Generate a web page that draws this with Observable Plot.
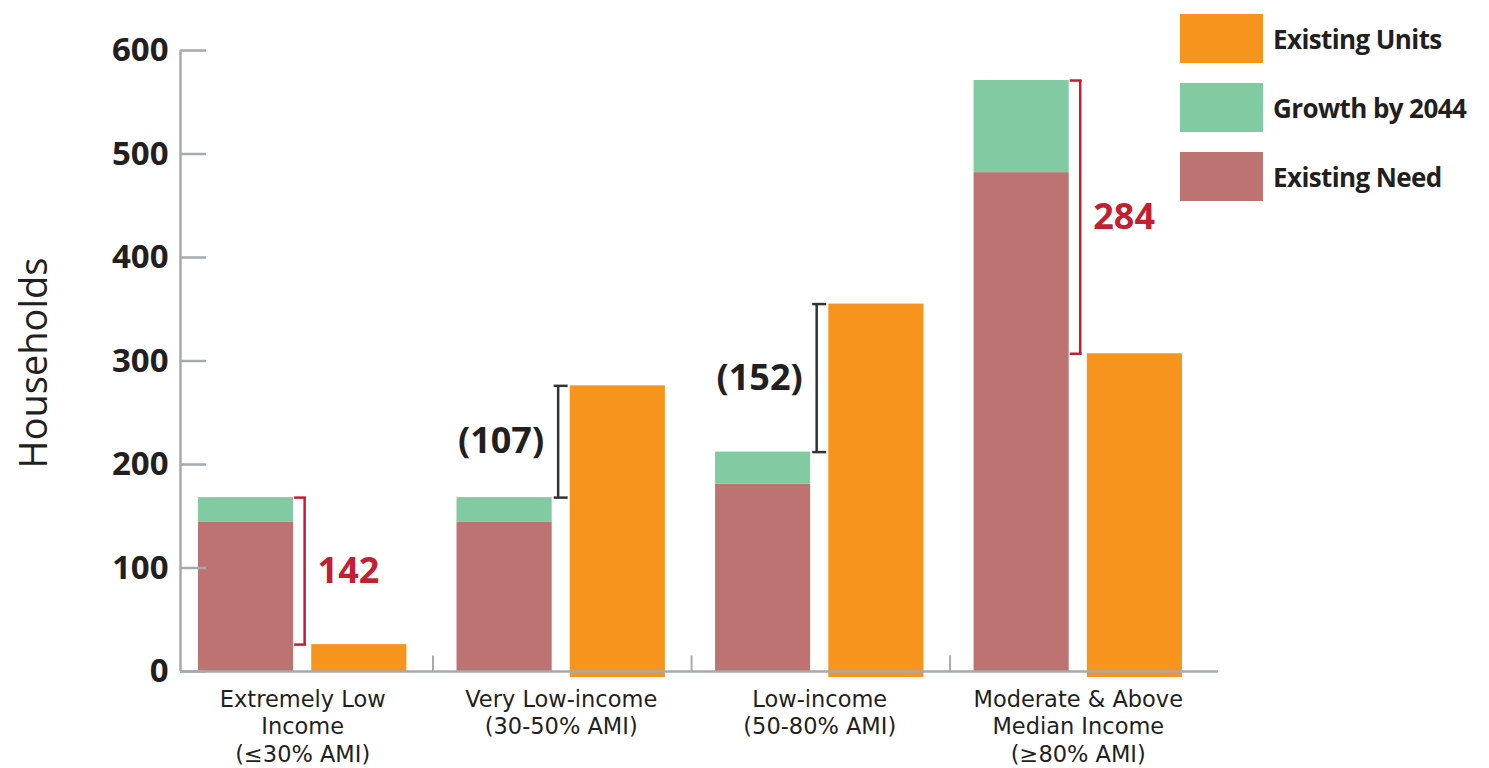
<!DOCTYPE html>
<html>
<head>
<meta charset="utf-8">
<script src="https://cdn.jsdelivr.net/npm/d3@7"></script>
<script src="https://cdn.jsdelivr.net/npm/@observablehq/plot@0.6"></script>
<style>
  html, body { margin: 0; padding: 0; background: #fff; }
  #wrap { position: relative; width: 1489px; height: 768px; font-family: 'Open Sans', sans-serif; }
  #legend { position: absolute; left: 1180px; top: 14px; }
  .item { display: flex; align-items: center; height: 49px; margin-bottom: 20px; }
  .sw { width: 83px; height: 49px; margin-right: 10px; }
  .lab { font-size: 26px; font-weight: 700; color: #231f20; letter-spacing: -0.6px; white-space: nowrap; }
</style>
</head>
<body>
<div id="wrap">
  <div id="chart"></div>
  <div id="legend"></div>
</div>
<script>
// Income categories (x groups)
const categories = [
  "Extremely Low\nIncome\n(≤30% AMI)",
  "Very Low-income\n(30-50% AMI)",
  "Low-income\n(50-80% AMI)",
  "Moderate & Above\nMedian Income\n(≥80% AMI)"
];
// Households by series
const existingNeed = [144, 144, 181, 482];
const growth2044 = [24, 24, 31, 89];
const existingUnits = [26, 276, 355, 307];
// Gap between projected need and existing units
const gapLabels = ["142", "(107)", "(152)", "284"];
const yTicks = [0, 100, 200, 300, 400, 500, 600];
const seriesNames = ["Existing Units", "Growth by 2044", "Existing Need"];
const seriesColors = ["#f7941e", "#82cba2", "#bd7371"];

const W = 1489, H = 768, ML = 180, MR = 271, MT = 50, MB = 97;
const frameW = W - ML - MR;
const axisGray = "#a7a9ac";
const red = "#c41e33";
const dark = "#333333";

// Stacked need (existing need + growth) and existing units rows
const stackRows = [];
categories.forEach((g, i) => {
  stackRows.push({group: g, col: "need", series: "Existing Need", value: existingNeed[i]});
  stackRows.push({group: g, col: "need", series: "Growth by 2044", value: growth2044[i]});
});
const unitRows = categories.map((g, i) => ({group: g, col: "units", series: "Existing Units", value: existingUnits[i], i}));

const gaps = categories.map((g, i) => {
  const top = existingNeed[i] + growth2044[i];
  const units = existingUnits[i];
  return {group: g, top, units, mid: (top + units) / 2, label: gapLabels[i], deficit: top > units};
});
const deficits = gaps.filter(d => d.deficit);
const surpluses = gaps.filter(d => !d.deficit);

// Band geometry (used for offsets relative to the bar bands)
const fxPadIn = 0.194, fxPadOut = 0.1045, fxAlign = 0.333, xPadIn = 0.16;
const fxStep = frameW / (categories.length - fxPadIn + 2 * fxPadOut);
const fxBw = fxStep * (1 - fxPadIn);
const fxLead = (frameW - fxStep * (categories.length - fxPadIn)) * fxAlign;
const bw = (fxBw / (2 - xPadIn)) * (1 - xPadIn);
const yTickLen = 26;

const need = () => "need";
const first = () => categories[0];

const chart = Plot.plot({
  width: W,
  height: H,
  marginLeft: ML,
  marginRight: MR,
  marginTop: MT,
  marginBottom: MB,
  style: {fontFamily: "'Open Sans', sans-serif", color: "#231f20", background: "transparent", overflow: "visible"},
  fx: {domain: categories, paddingInner: fxPadIn, paddingOuter: fxPadOut, align: fxAlign, round: false, axis: null},
  x: {domain: ["need", "units"], paddingInner: xPadIn, paddingOuter: 0, round: false, axis: null},
  y: {domain: [0, 600], axis: null},
  color: {domain: seriesNames, range: seriesColors},
  marks: [
    // bars
    Plot.barY(stackRows, {fx: "group", x: "col", y: "value", fill: "series"}),
    Plot.barY(unitRows.filter(d => d.i === 0), {fx: "group", x: "col", y: "value", fill: "series"}),
    // taller units bars overhang the baseline a little
    Plot.barY(unitRows.filter(d => d.i > 0), {fx: "group", x: "col", y: "value", fill: "series", insetBottom: -6}),

    // baseline across all groups, drawn from the first facet
    Plot.ruleY([0], {fx: first, insetLeft: -fxLead, insetRight: -(frameW - fxLead - fxBw), stroke: axisGray, strokeWidth: 2.5}),
    // y axis line
    Plot.ruleX([0], {fx: first, x: need, y1: yTicks[0], y2: yTicks[yTicks.length - 1], dx: -(bw / 2 + fxLead), stroke: axisGray, strokeWidth: 2.5}),
    // inward y ticks
    Plot.tickY(yTicks, {fx: first, y: d => d, insetLeft: -fxLead, insetRight: fxBw - (yTickLen - fxLead), stroke: axisGray, strokeWidth: 2.5}),
    Plot.axisY({ticks: yTicks, tickSize: 0, tickPadding: 12 + fxLead, fontSize: 33, fontWeight: 700, label: null}),
    Plot.axisFx({anchor: "bottom", tickSize: 0, tickPadding: 16, fontSize: 22.5, lineHeight: 1.22, fontFamily: "'DejaVu Sans', sans-serif", label: null}),
    // category separators
    Plot.ruleX(categories.slice(1), {fx: d => d, x: need, y1: 0, y2: 15, dx: -(bw / 2 + 24), stroke: axisGray, strokeWidth: 2}),
    Plot.text(["Households"], {facet: "super", frameAnchor: "left", textAnchor: "middle", lineAnchor: "middle", rotate: -90, dx: -(146 + fxLead), dy: 2, fontSize: 38, fill: "#231f20"}),

    // shortfall brackets (red)
    Plot.ruleX(deficits, {fx: "group", x: need, y1: "top", y2: "units", dx: bw / 2 + 11, stroke: red, strokeWidth: 2.5}),
    Plot.ruleY(deficits, {fx: "group", x1: need, x2: need, y: "top", insetLeft: bw + 1, insetRight: -13, stroke: red, strokeWidth: 2.5}),
    Plot.ruleY(deficits, {fx: "group", x1: need, x2: need, y: "units", insetLeft: bw + 1, insetRight: -13, stroke: red, strokeWidth: 2.5}),
    Plot.text(deficits, {fx: "group", x: need, y: "mid", text: "label", textAnchor: "start", dx: bw / 2 + 24, fill: red, fontSize: 36, fontWeight: 700}),

    // surplus brackets (dark)
    Plot.ruleX(surpluses, {fx: "group", x: need, y1: "top", y2: "units", dx: bw / 2 + 6, stroke: dark, strokeWidth: 2.5}),
    Plot.ruleY(surpluses, {fx: "group", x1: need, x2: need, y: "top", insetLeft: bw + 2, insetRight: -16, stroke: dark, strokeWidth: 2.5}),
    Plot.ruleY(surpluses, {fx: "group", x1: need, x2: need, y: "units", insetLeft: bw + 2, insetRight: -16, stroke: dark, strokeWidth: 2.5}),
    Plot.text(surpluses, {fx: "group", x: need, y: "mid", text: "label", textAnchor: "end", dx: bw / 2 - 8, fill: "#231f20", fontSize: 36, fontWeight: 700})
  ]
});
document.getElementById("chart").appendChild(chart);

// legend
const legend = d3.select("#legend");
seriesNames.forEach((name, i) => {
  const item = legend.append("div").attr("class", "item");
  item.append("div").attr("class", "sw").style("background", seriesColors[i]);
  item.append("div").attr("class", "lab").text(name);
});
</script>
</body>
</html>
